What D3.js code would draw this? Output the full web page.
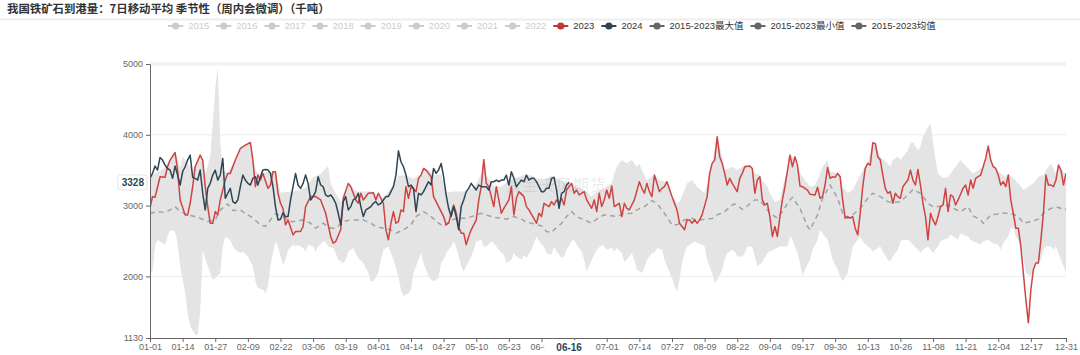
<!DOCTYPE html>
<html><head><meta charset="utf-8">
<script src="https://cdn.jsdelivr.net/npm/d3@7/dist/d3.min.js"></script>
<style>body{margin:0;background:#fff}svg{display:block}</style>
</head><body><svg id="c" width="1080" height="355"></svg>
<script>
const titleText = "我国铁矿石到港量：7日移动平均 季节性（周内会微调）（千吨）";
const xTickLabels = ["01-01","01-14","01-27","02-09","02-22","03-06","03-19","04-01","04-14","04-27","05-10","05-23","06-05","06-18","07-01","07-14","07-27","08-09","08-22","09-04","09-17","09-30","10-13","10-26","11-08","11-21","12-04","12-17","12-31"];
const yTicks = [1130, 2000, 3000, 4000, 5000];
const legendNames = ["2015","2016","2017","2018","2019","2020","2021","2022","2023","2024","2015-2023最大值","2015-2023最小值","2015-2023均值"];
const legendColors = ["#ccc","#ccc","#ccc","#ccc","#ccc","#ccc","#ccc","#ccc","#c23531","#2f4554","#666","#666","#666"];
const legendActive = [false,false,false,false,false,false,false,false,true,true,true,true,true];
const pointerDate = "06-16";
const pointerValue = 3328;
const watermark = "紫金天风期货";

// [day index in the 366-day calendar, value]
const s2023 = [[0,2962],[1,3127],[2,3117],[4,3408],[6,3400],[7,3549],[8,3643],[10,3750],[11,3502],[12,3080],[14,2869],[15,2869],[16,3033],[17,3267],[18,3549],[20,3713],[21,3643],[22,3267],[23,2986],[24,2751],[25,2751],[26,2916],[27,2869],[28,3080],[30,3361],[31,3455],[32,3455],[34,3643],[36,3807],[38,3854],[40,3891],[41,3643],[42,3267],[43,3431],[44,3361],[45,3455],[47,3244],[48,3291],[49,3478],[50,3478],[51,3174],[52,3033],[53,2962],[54,2728],[55,2798],[57,2587],[58,2634],[60,2634],[61,2705],[62,2986],[64,3127],[66,3127],[68,3080],[70,2892],[72,2564],[73,2470],[74,2493],[76,2658],[77,3103],[79,3314],[80,3267],[82,3080],[83,3033],[84,3174],[85,3080],[87,3174],[89,3183],[90,3080],[91,3174],[93,3033],[94,2658],[95,2517],[96,2751],[97,2916],[98,2751],[99,2775],[100,2939],[101,2916],[102,3267],[103,3103],[104,3267],[106,3197],[107,3385],[108,3431],[109,3525],[110,3502],[111,3455],[112,3408],[113,3127],[115,2986],[117,2845],[118,2728],[119,2751],[120,2892],[121,3009],[122,2900],[123,2700],[124,2611],[125,2611],[126,2447],[127,2564],[128,2658],[130,2798],[131,3080],[132,3267],[133,3652],[134,3314],[135,3267],[137,2986],[138,3267],[139,3080],[140,2892],[141,2962],[143,3080],[144,3267],[145,2869],[146,3103],[147,3197],[149,3127],[150,2986],[151,2939],[154,2751],[155,2892],[156,2845],[157,3033],[159,2986],[160,3056],[161,3009],[162,3080],[163,3033],[164,3103],[165,3009],[166,3220],[168,3314],[169,3174],[170,3220],[171,3150],[173,3197],[174,3080],[176,2962],[177,3080],[178,2916],[179,3174],[180,2986],[181,3080],[182,3220],[183,3103],[184,3277],[185,2986],[187,3033],[188,2845],[189,3033],[190,2962],[191,2939],[193,3080],[195,3338],[196,3244],[197,3174],[198,3314],[199,3197],[200,3127],[201,3431],[203,3197],[204,3244],[205,3267],[206,3338],[208,3127],[210,2939],[211,2751],[213,2658],[214,2798],[215,2798],[216,2751],[217,2798],[218,2751],[219,2798],[220,2869],[222,3127],[223,3455],[224,3596],[225,3643],[226,3971],[227,3689],[228,3596],[229,3455],[230,3291],[231,3385],[232,3314],[234,3197],[235,3385],[236,3455],[237,3549],[239,3558],[240,3525],[241,3174],[242,3361],[243,3408],[244,3080],[245,3009],[246,3033],[247,2845],[248,2564],[249,2705],[250,2564],[251,2845],[252,3080],[253,3267],[255,3713],[256,3549],[257,3689],[258,3572],[259,3277],[260,3267],[262,3220],[263,3159],[265,3150],[266,3258],[267,3103],[268,3127],[269,3291],[270,3539],[271,3385],[272,3408],[273,3399],[274,3455],[275,3408],[276,3080],[277,2822],[278,2845],[279,2822],[280,2845],[281,2681],[282,2587],[283,2892],[284,3267],[285,3525],[286,3596],[287,3572],[288,3886],[289,3877],[290,3689],[291,3643],[292,3431],[293,3244],[294,3174],[295,3197],[296,3033],[297,3174],[298,3127],[299,3103],[300,3267],[302,3361],[303,3502],[304,3361],[305,3291],[306,3511],[307,3291],[308,3033],[309,2845],[310,2517],[311,2892],[312,2798],[313,2728],[314,2845],[315,2986],[316,3009],[317,3244],[318,2916],[319,3150],[320,3127],[321,3009],[322,3080],[324,3244],[325,3290],[326,3150],[327,3361],[328,3244],[329,3385],[330,3408],[331,3431],[332,3549],[333,3666],[334,3840],[335,3643],[336,3549],[337,3525],[338,3431],[339,3291],[340,3338],[341,3267],[342,3431],[343,3080],[344,2892],[345,2681],[346,2681],[347,2423],[348,2048],[349,1673],[350,1344],[351,1813],[352,2095],[353,2189],[354,2189],[355,2517],[356,2892],[357,3431],[358,3291],[359,3291],[360,3267],[361,3361],[362,3572],[363,3502],[364,3291],[365,3455]];

const s2024 = [[0,3385],[1,3455],[2,3558],[3,3502],[4,3680],[5,3643],[6,3572],[7,3525],[8,3502],[9,3385],[10,3558],[11,3431],[12,3291],[13,3478],[14,3549],[15,3643],[16,3713],[17,3400],[18,3385],[19,3361],[20,3502],[21,3174],[22,2939],[23,3244],[24,3314],[25,3431],[26,3502],[27,3361],[28,3431],[29,3666],[30,3103],[31,3174],[32,3244],[33,3056],[34,3033],[35,3080],[36,3267],[37,3431],[38,3361],[39,3314],[40,3291],[41,3385],[42,3408],[43,3291],[44,3408],[45,3502],[46,3511],[47,3502],[48,3455],[49,3267],[50,2986],[51,2798],[52,2808],[53,2900],[54,2845],[55,2845],[56,3080],[57,3267],[58,3455],[59,3291],[60,3244],[61,3314],[62,3431],[63,3314],[64,3080],[65,3127],[66,3197],[67,3408],[68,3291],[69,3267],[70,3150],[71,3127],[72,3150],[73,3103],[74,3033],[75,2892],[76,2728],[77,3056],[78,3127],[79,2939],[80,2986],[81,3080],[82,3103],[83,3174],[84,2986],[85,2845],[86,2939],[87,2962],[88,2986],[89,3033],[90,3056],[91,3009],[92,3033],[93,3080],[94,3127],[95,3127],[96,3197],[97,3267],[98,3431],[99,3774],[100,3619],[101,3549],[102,3431],[103,3267],[104,3291],[105,3244],[106,2916],[107,3174],[108,3150],[109,3197],[110,3267],[111,3338],[112,3291],[113,3525],[114,3455],[115,3502],[116,3596],[117,3408],[118,3150],[119,2962],[120,2845],[121,2986],[122,2845],[123,2660],[124,2986],[125,3080],[126,3197],[127,3244],[128,3314],[129,3267],[130,3220],[131,3291],[132,3267],[133,3267],[134,3267],[135,3220],[136,3338],[137,3338],[138,3361],[139,3338],[140,3361],[141,3361],[142,3431],[143,3291],[144,3478],[145,3385],[146,3267],[147,3314],[148,3361],[149,3338],[150,3431],[151,3361],[152,3385],[153,3385],[154,3338],[155,3267],[156,3197],[157,3197],[158,3244],[159,3244],[160,3385],[161,3399],[162,3220],[163,2962],[164,3174],[165,3197],[166,3291],[167,3328]];

const sMean = [[0,2892],[3,2916],[6,2902],[8,2939],[10,2986],[12,2916],[15,2869],[18,2845],[20,2822],[23,2775],[26,2798],[28,2939],[31,3023],[33,2930],[36,2939],[38,2892],[41,2822],[44,2728],[46,2705],[49,2845],[50,2883],[53,2845],[56,2775],[58,2775],[61,2798],[64,2751],[66,2681],[69,2751],[72,2681],[74,2681],[77,2775],[80,2798],[82,2798],[85,2798],[88,2751],[90,2705],[93,2681],[96,2658],[98,2611],[101,2658],[104,2728],[106,2845],[109,2916],[112,2845],[115,2751],[117,2705],[120,2798],[123,2822],[126,2822],[129,2855],[132,2892],[134,2869],[137,2836],[140,2822],[142,2808],[145,2845],[148,2808],[150,2765],[153,2742],[156,2714],[158,2634],[160,2620],[161,2658],[164,2751],[166,2845],[168,2916],[170,2845],[173,2798],[176,2751],[178,2808],[181,2869],[184,2855],[186,2845],[189,2883],[192,2892],[194,2939],[197,2986],[200,3070],[202,3033],[205,2892],[208,2728],[210,2728],[213,2798],[216,2822],[218,2789],[221,2808],[224,2817],[226,2869],[229,2916],[232,3009],[233,3023],[236,2948],[238,2995],[241,3080],[243,3080],[244,3033],[247,2892],[250,2822],[252,2916],[255,3080],[256,3117],[259,2962],[262,2705],[263,2658],[266,2869],[268,3103],[271,3291],[274,3103],[276,2892],[278,2822],[280,2869],[283,2962],[286,3103],[288,3174],[291,3127],[294,3056],[296,3042],[299,3056],[302,3150],[304,3230],[307,3174],[310,3033],[312,2986],[315,2986],[318,3009],[320,2962],[323,2916],[326,2986],[328,2855],[331,2798],[332,2751],[335,2869],[338,2883],[340,2892],[343,2892],[346,2845],[348,2751],[351,2775],[354,2808],[356,2892],[359,2962],[362,2977],[364,2939],[365,2948]];

const sMax = [[0,3400],[2,3460],[5,3510],[8,3650],[10,3760],[12,3550],[13,3690],[15,3600],[17,3500],[20,3720],[22,3450],[23,3560],[24,3700],[25,4150],[26,4650],[27,4956],[28,3900],[29,3500],[31,3460],[34,3650],[36,3810],[38,3860],[40,3900],[42,3500],[44,3430],[46,3470],[49,3480],[50,3480],[52,3180],[57,3200],[62,3250],[65,3400],[68,3450],[71,3560],[72,3300],[76,3050],[79,3320],[82,3200],[86,3200],[89,3200],[92,3100],[94,3150],[97,3300],[99,3420],[102,3430],[105,3380],[108,3450],[109,3530],[111,3500],[113,3430],[116,3440],[118,3180],[121,3200],[124,3200],[126,3200],[129,3270],[130,3310],[132,3455],[133,3660],[134,3430],[137,3270],[140,3270],[142,3320],[145,3385],[149,3430],[152,3430],[154,3385],[157,3360],[160,3430],[162,3385],[165,3338],[168,3320],[170,3270],[173,3220],[176,3130],[178,3200],[181,3250],[184,3314],[185,3455],[186,3550],[188,3643],[190,3596],[192,3643],[194,3550],[195,3596],[196,3500],[198,3360],[200,3408],[201,3440],[203,3360],[205,3340],[206,3340],[208,3127],[210,3033],[211,3050],[212,3127],[214,3314],[216,3361],[218,3267],[221,3174],[223,3455],[224,3600],[226,3975],[228,3690],[229,3502],[232,3549],[234,3502],[237,3570],[239,3570],[241,3455],[243,3431],[244,3361],[246,3267],[247,3174],[249,3050],[251,3080],[252,3267],[254,3502],[255,3720],[257,3660],[259,3455],[262,3314],[263,3267],[265,3290],[267,3455],[268,3549],[270,3643],[271,3480],[274,3455],[275,3431],[276,3267],[278,3174],[280,3220],[282,3361],[284,3502],[286,3600],[288,3890],[289,3880],[291,3689],[294,3596],[295,3549],[296,3643],[298,3689],[299,3643],[300,3689],[302,3783],[303,3877],[304,3900],[306,3783],[307,3830],[308,3971],[310,4112],[311,4158],[312,3900],[313,3650],[314,3455],[316,3385],[318,3408],[319,3455],[321,3549],[323,3643],[324,3596],[326,3525],[328,3455],[330,3502],[332,3549],[333,3600],[334,3840],[335,3643],[337,3525],[339,3455],[341,3408],[342,3455],[344,3385],[346,3314],[348,3220],[350,3267],[352,3314],[354,3408],[356,3431],[358,3549],[359,3596],[361,3455],[362,3572],[363,3502],[365,3455]];

const sMin = [[0,2048],[1,2071],[2,2423],[3,2517],[4,2493],[6,2447],[7,2564],[8,2658],[10,2634],[11,2470],[12,2142],[14,1767],[15,1485],[16,1298],[18,1180],[19,1166],[20,1500],[21,2376],[22,2250],[24,2048],[25,1954],[26,1978],[28,2048],[29,2423],[30,2564],[32,2517],[33,2423],[34,2376],[36,2329],[37,2353],[39,2282],[41,2142],[42,1931],[43,1837],[45,1813],[46,1767],[47,1860],[48,2142],[49,2329],[50,2493],[51,2423],[52,2282],[53,2165],[54,2236],[55,2376],[57,2447],[58,2423],[59,2447],[61,2400],[62,2353],[63,2447],[65,2423],[66,2353],[67,2423],[69,2493],[70,2493],[71,2423],[73,2400],[74,2329],[75,2236],[77,2189],[78,2236],[79,2353],[81,2400],[82,2329],[83,2259],[85,2189],[87,2048],[88,1931],[89,1931],[91,2048],[92,2236],[93,2376],[95,2423],[96,2329],[97,2236],[99,2001],[100,1813],[101,1720],[103,1767],[104,1813],[105,2048],[107,2236],[108,2329],[109,2189],[111,2001],[112,1954],[113,1931],[115,1978],[116,2189],[117,2236],[118,2329],[120,2423],[121,2493],[122,2423],[124,2142],[125,2071],[126,2142],[128,2282],[129,2376],[130,2493],[132,2517],[133,2423],[134,2423],[136,2493],[137,2470],[138,2423],[140,2329],[141,2306],[142,2189],[144,2236],[145,2329],[146,2282],[148,2236],[149,2306],[150,2259],[152,2376],[153,2470],[154,2564],[156,2447],[157,2423],[158,2329],[160,2306],[161,2423],[162,2353],[164,2259],[165,2282],[166,2376],[168,2493],[169,2517],[170,2447],[172,2353],[173,2236],[174,2071],[176,2236],[177,2306],[178,2376],[180,2447],[181,2423],[182,2376],[184,2400],[185,2353],[186,2400],[188,2329],[189,2212],[190,2236],[192,2329],[193,2236],[194,2095],[196,2048],[197,2118],[198,2236],[200,2329],[201,2329],[202,2400],[204,2376],[205,2236],[206,2142],[208,1978],[209,1860],[210,1790],[211,1954],[212,2189],[213,2329],[214,2423],[216,2470],[217,2493],[218,2470],[220,2447],[221,2423],[222,2236],[224,2048],[225,1907],[226,1954],[228,2095],[229,2236],[230,2329],[232,2376],[233,2353],[234,2282],[236,2282],[237,2329],[238,2423],[240,2423],[241,2282],[242,2142],[244,2200],[246,2329],[247,2353],[249,2388],[251,2423],[254,2423],[255,2564],[256,2517],[258,2329],[259,2189],[260,2001],[261,2100],[263,2236],[264,2376],[266,2517],[267,2658],[268,2611],[270,2517],[271,2376],[272,2236],[274,2095],[275,2001],[276,1931],[278,2048],[279,2236],[280,2423],[282,2517],[283,2564],[284,2493],[286,2423],[287,2400],[288,2353],[290,2400],[291,2423],[292,2353],[294,2236],[295,2212],[296,2282],[298,2376],[299,2493],[300,2517],[302,2517],[303,2493],[304,2447],[306,2376],[307,2329],[308,2376],[310,2423],[311,2376],[312,2329],[314,2423],[315,2493],[316,2517],[318,2540],[319,2587],[320,2564],[322,2517],[323,2611],[324,2587],[326,2564],[327,2517],[328,2493],[330,2470],[331,2447],[332,2493],[334,2517],[335,2493],[336,2470],[338,2447],[339,2376],[340,2470],[342,2564],[343,2681],[344,2681],[345,2564],[347,2447],[348,2282],[349,2048],[351,2000],[352,2095],[353,2189],[355,2236],[356,2376],[357,2423],[359,2423],[360,2376],[361,2423],[362,2329],[364,2142],[365,2048]];

// category list: every day of a 366-day (leap) year, "MM-DD"
const dates = [];
for (let d = new Date(2024, 0, 1); d.getFullYear() === 2024; d.setDate(d.getDate() + 1)) {
  dates.push(String(d.getMonth() + 1).padStart(2, "0") + "-" + String(d.getDate()).padStart(2, "0"));
}

const FONT = "'Liberation Sans', 'Noto Sans CJK SC', sans-serif";
const CJK = "'Noto Sans CJK SC', 'Liberation Sans', sans-serif";
const svg = d3.select("#c");
const L = 150, R = 1066, T = 64, B = 338;
const x = d3.scaleLinear().domain([0, dates.length - 1]).range([L, R]);
const y = d3.scaleLinear().domain([1130, 5000]).range([B, T]);

// title
svg.append("text").attr("x", 7).attr("y", 13).attr("font-family", CJK).attr("font-size", 11.4)
  .attr("font-weight", "bold").attr("fill", "#333").text(titleText);
svg.append("rect").attr("x", 0).attr("y", 18.5).attr("width", 1080).attr("height", 2).attr("fill", "#ededed");

// legend
const lg = svg.append("g").attr("font-family", FONT).attr("font-size", 9.5);
let cx = 0;
legendNames.forEach((name, i) => {
  const g = lg.append("g").attr("transform", `translate(${cx},0)`);
  g.append("line").attr("x1", 0).attr("x2", 15).attr("y1", 0).attr("y2", 0)
    .attr("stroke", legendColors[i]).attr("stroke-width", 2);
  g.append("circle").attr("cx", 7.5).attr("cy", 0).attr("r", 3.6).attr("fill", legendColors[i]);
  const t = g.append("text").attr("x", 20).attr("y", 0).attr("dy", "0.35em")
    .attr("fill", legendActive[i] ? "#333" : "#ccc").text(name);
  cx += 20 + t.node().getComputedTextLength() + 7;
});
const lgW = cx - 7;
lg.attr("transform", `translate(${552 - lgW / 2},26)`);

// grid
yTicks.filter(v => v > 1130).forEach(v => {
  svg.append("line").attr("x1", L).attr("x2", R).attr("y1", y(v)).attr("y2", y(v))
    .attr("stroke", v === 5000 ? "#f3f3f3" : "#ececec").attr("stroke-width", v === 5000 ? 4 : 1);
});

// clip
svg.append("clipPath").attr("id", "clip").append("rect")
  .attr("x", L).attr("y", T - 2).attr("width", R - L).attr("height", B - T + 2);
const plot = svg.append("g").attr("clip-path", "url(#clip)");

const line = d3.line().x(d => x(d[0])).y(d => y(d[1]));

// min-max band
plot.append("path").attr("d", line(sMax.concat(sMin.slice().reverse())) + "Z")
  .attr("fill", "#e4e4e4").attr("stroke", "none");

// watermark
plot.append("text").attr("x", 556).attr("y", 191).attr("text-anchor", "middle")
  .attr("font-family", CJK).attr("font-size", 16).attr("fill", "rgba(120,120,120,0.16)")
  .attr("letter-spacing", 1).text(watermark);

plot.append("path").attr("d", line(sMean)).attr("fill", "none")
  .attr("stroke", "#a2a2a2").attr("stroke-width", 1.5).attr("stroke-dasharray", "5,4");
plot.append("path").attr("d", line(s2023)).attr("fill", "none")
  .attr("stroke", "#cf4343").attr("stroke-width", 1.5).attr("stroke-linejoin", "round");
plot.append("path").attr("d", line(s2024)).attr("fill", "none")
  .attr("stroke", "#2f4554").attr("stroke-width", 1.5).attr("stroke-linejoin", "round");

// axes
const pi = dates.indexOf(pointerDate);
const yAxis = svg.append("g").attr("transform", `translate(${L},0)`)
  .call(d3.axisLeft(y).tickValues(yTicks).tickFormat(d3.format("d")).tickSize(4).tickSizeOuter(0).tickPadding(3));
const xIdx = xTickLabels.map(l => dates.indexOf(l));
// the label that sits under the axis-pointer label is hidden, as in the source chart
const xAxis = svg.append("g").attr("transform", `translate(0,${B})`)
  .call(d3.axisBottom(x).tickValues(xIdx)
    .tickFormat(i => (Math.abs(i - pi) < 6 ? "" : dates[i]))
    .tickSize(4).tickSizeOuter(0).tickPadding(2));
[yAxis, xAxis].forEach(a => {
  a.attr("font-family", FONT).attr("font-size", 9);
  a.select(".domain").attr("stroke", "#666");
  a.selectAll(".tick line").attr("stroke", "#666");
  a.selectAll(".tick text").attr("fill", "#666");
});

// axis pointer labels
const xl = svg.append("g").attr("transform", `translate(${x(pi)},${B + 2})`);
xl.append("rect").attr("x", -25).attr("y", 0).attr("width", 50).attr("height", 15).attr("fill", "#fff");
xl.append("text").attr("x", 0).attr("y", 11).attr("text-anchor", "middle").attr("font-family", FONT)
  .attr("font-size", 10).attr("font-weight", "bold").attr("fill", "#2f4554").text(pointerDate);

const yl = svg.append("g").attr("transform", `translate(${L - 3},${y(pointerValue)})`);
yl.append("rect").attr("x", -29).attr("y", -7.5).attr("width", 29).attr("height", 15).attr("rx", 2)
  .attr("fill", "#fff").attr("stroke", "#e4e4e4");
yl.append("text").attr("x", -3).attr("y", 0).attr("dy", "0.35em").attr("text-anchor", "end")
  .attr("font-family", FONT).attr("font-size", 10).attr("font-weight", "bold").attr("fill", "#2f4554")
  .text(pointerValue);
</script></body></html>
